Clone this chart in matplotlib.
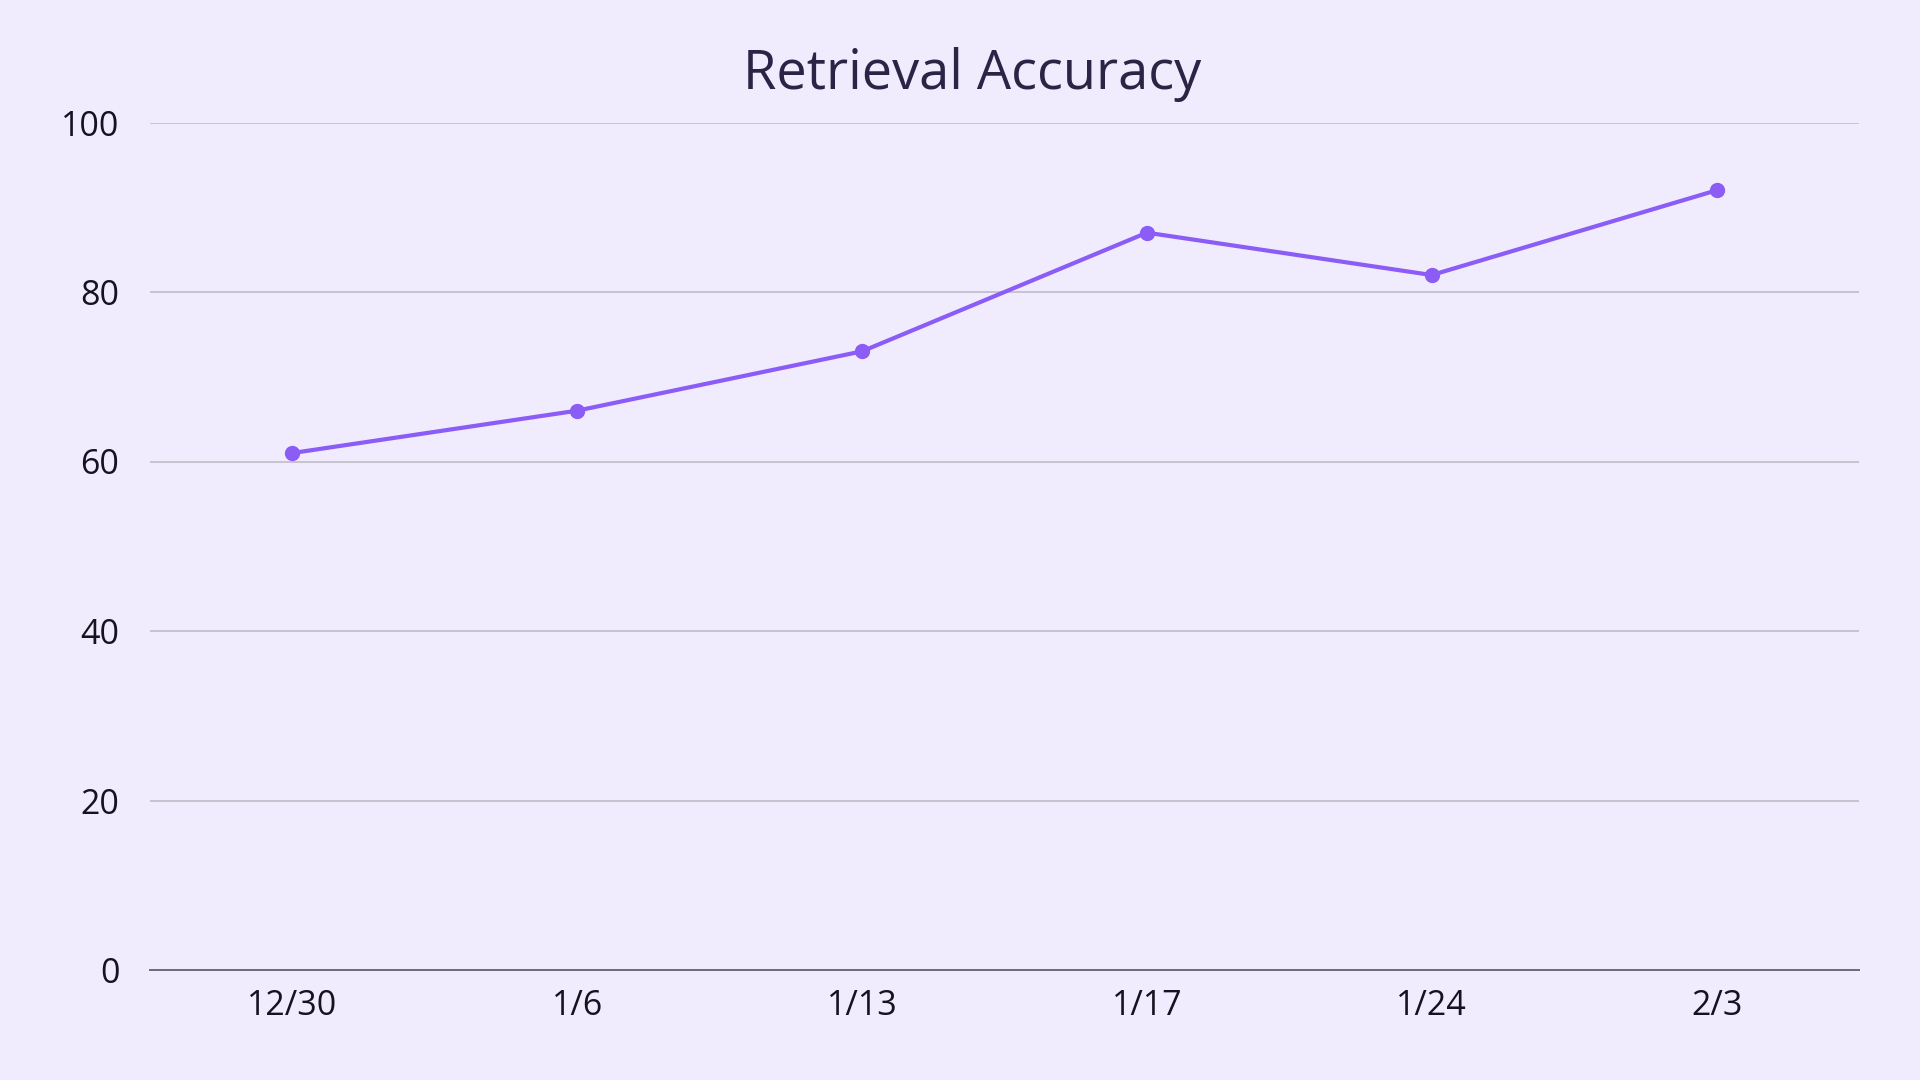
import numpy as np
import matplotlib.pyplot as plt

# 資料
dates = ['12/30', '1/6', '1/13', '1/17', '1/24', '2/3']
accuracy = [61, 66, 73, 87, 82, 92]
y_ticks = [0, 20, 40, 60, 80, 100]

bg = '#f0ecfe'
purple = '#8b5cf6'

plt.rcParams['font.family'] = ['Open Sans', 'DejaVu Sans']

fig = plt.figure(figsize=(19.2, 10.8), dpi=100, facecolor=bg)
ax = fig.add_axes([150/1920, 1 - 970/1080, (1859-150)/1920, (970-122.5)/1080])
ax.set_facecolor(bg)

x = np.arange(len(dates))
ax.plot(x, accuracy, '-o', color=purple, linewidth=3, markersize=10, zorder=3)

ax.set_xlim(-0.5, len(dates) - 0.5)
ax.set_ylim(0, 100)
ax.set_yticks(y_ticks)
ax.set_xticks(x)
ax.set_xticklabels(dates)

# 格線
ax.grid(axis='y', color='#c3bfcb', linewidth=1.3)
ax.set_axisbelow(True)
for s in ['top', 'right', 'left']:
    ax.spines[s].set_visible(False)
ax.spines['bottom'].set_color('#6f6b76')
ax.spines['bottom'].set_linewidth(1.4)
ax.tick_params(axis='both', length=0, labelsize=24.5, colors='#151320')
ax.tick_params(axis='y', pad=22)
ax.tick_params(axis='x', pad=14)

fig.text(0.5065, 1 - 74/1080, 'Retrieval Accuracy', ha='center', va='center',
         fontsize=39, color='#2a2545')

fig.savefig('out.png', dpi=100, facecolor=bg)
